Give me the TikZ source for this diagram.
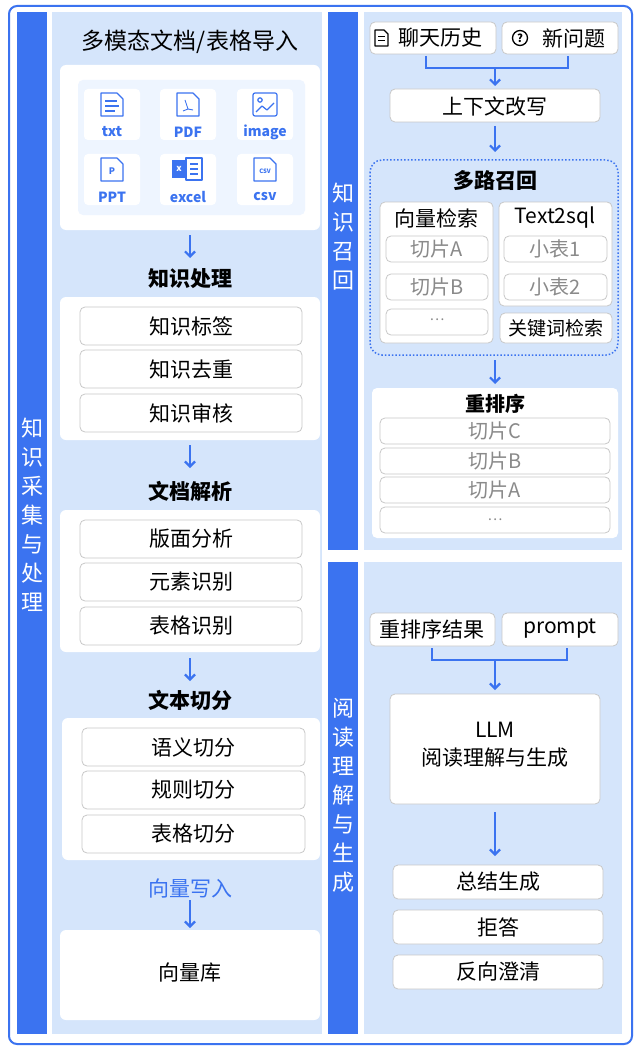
\documentclass[tikz,border=0pt]{standalone}
\usepackage{fontspec}
\setmainfont{Noto Sans CJK SC}
\usetikzlibrary{arrows.meta}
\definecolor{bl}{HTML}{3B73F0}
\definecolor{pan}{HTML}{D5E5FB}
\definecolor{pale}{HTML}{EEF5FF}
\definecolor{gr}{HTML}{C8C8C8}
\definecolor{gt}{HTML}{8A8A8A}
\tikzset{
 fs/.style={font=\fontsize{#1}{#1}\selectfont},
 box/.style={draw=gr,fill=white,rounded corners=5pt,line width=0.8pt},
 wbox/.style={fill=white,rounded corners=6pt},
 arr/.style={draw=bl,line width=2.2pt,-{Straight Barb[length=5pt,width=10pt]}},
 brk/.style={draw=bl,line width=2.2pt},
 card/.style={fill=white,rounded corners=4pt},
 ic/.style={draw=bl,line width=1.2pt,line join=round},
 lab/.style={text=bl,font=\bfseries\fontsize{14}{14}\selectfont},
 vt/.style={text=white,font=\fontsize{22}{29}\selectfont,align=center,text width=22pt,inner sep=0}
}
\newcommand{\rb}[4]{\path[box] (#1,#2) rectangle (#3,#4);}
\begin{document}
\begin{tikzpicture}[x=1pt,y=-1pt]
\useasboundingbox (0,0) rectangle (640,1051);
\fill[white] (0,0) rectangle (640,1051);
\draw[bl,line width=2pt,rounded corners=8pt] (9,6) rectangle (632,1044);
% strips
\fill[bl] (17,12) rectangle (47,1034);
\fill[pan] (52,12) rectangle (322,1034);
\fill[bl] (328,12) rectangle (358,550);
\fill[bl] (328,562) rectangle (358,1034);
\fill[pan] (364,12) rectangle (622,550);
\fill[pan] (364,562) rectangle (622,1034);
\node[vt] (s1) at (32,515) {知\\识\\采\\集\\与\\处\\理};
\node[vt] (s2) at (343,237) {知\\识\\召\\回};
\node[vt] (s3) at (343,795) {阅\\读\\理\\解\\与\\生\\成};
% ===== left column
\node[fs=23] (t1) at (190,42) {多模态文档/表格导入};
\path[wbox] (60,65) rectangle (320,230);
\path[fill=pale,rounded corners=5pt] (78,80) rectangle (305,215);
\foreach \cx/\cy/\nm/\lb in {112/115/ctxt/txt,188/115/cpdf/PDF,265/115/cimg/image,112/180/cppt/PPT,188/180/cxls/excel,265/180/ccsv/csv}{
  \path[card] (\cx-28,\cy-26) rectangle (\cx+28,\cy+25);
  \node[lab] (\nm) at (\cx,\cy+17) {\lb};
}
% icons
\draw[ic] (101,93) -- (117,93) -- (123,99) -- (123,116) -- (101,116) -- cycle;
\draw[ic] (105,101) -- (117,101) (105,106) -- (119,106) (105,111) -- (115,111);
\draw[ic] (177,93) -- (193,93) -- (199,99) -- (199,116) -- (177,116) -- cycle;
\draw[ic,line width=0.9pt] (185,100) -- (188,109) -- (183,111) (188,109) -- (193,110);
\draw[ic,rounded corners=2pt] (253,93) rectangle (277,116);
\draw[ic] (260,100) circle (2.2pt);
\draw[ic] (256,112) -- (262,106) -- (267,110) -- (274,103);
\draw[ic] (101,158) -- (117,158) -- (123,164) -- (123,181) -- (101,181) -- cycle;
\node[text=bl,font=\bfseries\fontsize{9}{9}\selectfont] (pp) at (112,171) {P};
\fill[bl] (172,160) rectangle (186,178);
\node[text=white,font=\bfseries\fontsize{9}{9}\selectfont] (xx) at (179,169) {x};
\draw[ic] (186,158) rectangle (202,180);
\draw[ic] (190,164) -- (198,164) (190,169) -- (198,169) (190,174) -- (198,174);
\draw[ic] (254,158) -- (270,158) -- (276,164) -- (276,181) -- (254,181) -- cycle;
\node[text=bl,font=\bfseries\fontsize{6}{6}\selectfont] (cs) at (265,171) {CSV};
\draw[arr] (190,235) -- (190,258);
\node[fs=21] (t2) at (190,279) {\bfseries 知识处理};
\path[wbox] (60,297) rectangle (320,440);
\rb{80}{307}{302}{345}\node[fs=21] (a1) at (191,326) {知识标签};
\rb{80}{350}{302}{388}\node[fs=21] (a2) at (191,369) {知识去重};
\rb{80}{394}{302}{432}\node[fs=21] (a3) at (191,413) {知识审核};
\draw[arr] (190,445) -- (190,468);
\node[fs=21] (t3) at (190,491) {\bfseries 文档解析};
\path[wbox] (60,510) rectangle (320,652);
\rb{80}{520}{302}{558}\node[fs=21] (b1) at (191,539) {版面分析};
\rb{80}{563}{302}{601}\node[fs=21] (b2) at (191,582) {元素识别};
\rb{80}{607}{302}{645}\node[fs=21] (b3) at (191,626) {表格识别};
\draw[arr] (190,658) -- (190,681);
\node[fs=21] (t4) at (190,700) {\bfseries 文本切分};
\path[wbox] (62,718) rectangle (320,860);
\rb{82}{728}{305}{766}\node[fs=21] (c1) at (193,747) {语义切分};
\rb{82}{771}{305}{809}\node[fs=21] (c2) at (193,790) {规则切分};
\rb{82}{815}{305}{853}\node[fs=21] (c3) at (193,834) {表格切分};
\node[fs=21,text=bl] (t5) at (190,888) {向量写入};
\draw[arr] (190,900) -- (190,928);
\path[wbox] (60,930) rectangle (320,1020);
\node[fs=21] (db) at (190,973) {向量库};
% ===== right top
\rb{370}{22}{496}{54}
\draw[line width=1.2pt,line join=round] (375,30) -- (384,30) -- (388,34) -- (388,46) -- (375,46) -- cycle;
\draw[line width=1pt] (378,37) -- (385,37) (378,41) -- (385,41);
\node[fs=21] (h1) at (440,38) {聊天历史};
\rb{502}{22}{618}{54}
\draw[line width=1.3pt] (520,38) circle (7.5pt);
\node[font=\bfseries\fontsize{11}{11}\selectfont] (qm) at (520,38) {?};
\node[fs=21] (h2) at (574,38) {新问题};
\draw[brk] (426,56) -- (426,68) -- (568,68) -- (568,56);
\coordinate (j1) at (495,68);
\rb{390}{89}{600}{122}\node[fs=21] (rw) at (495,106) {上下文改写};
\draw[arr] (j1) -- (495,86);
\draw[arr] (495,126) -- (495,152);
\draw[bl,line width=1.5pt,dotted,rounded corners=12pt] (370,160) rectangle (618,355);
\node[fs=21] (mr) at (495,181) {\bfseries 多路召回};
\rb{380}{202}{493}{343}\node[fs=21] (vr) at (436,218) {向量检索};
\rb{386}{236}{488}{262}\node[fs=20,text=gt] (v1) at (437,249) {切片A};
\rb{386}{274}{488}{300}\node[fs=20,text=gt] (v2) at (437,287) {切片B};
\rb{386}{309}{488}{335}\node[fs=14,text=gt] (v3) at (437,320) {…};
\rb{499}{202}{612}{306}\node[fs=21] (ts) at (555,218) {Text2sql};
\rb{504}{236}{607}{262}\node[fs=20,text=gt] (w1) at (555,249) {小表1};
\rb{504}{274}{607}{300}\node[fs=20,text=gt] (w2) at (555,287) {小表2};
\rb{500}{313}{612}{343}\node[fs=19] (kw) at (556,328) {关键词检索};
\draw[arr] (495,360) -- (495,384);
\path[box,draw=none] (372,388) rectangle (618,538);
\node[font=\bfseries\fontsize{20}{20}\selectfont] (rk) at (495,404) {重排序};
\rb{380}{418}{610}{444}\node[fs=20,text=gt] (r1) at (495,431) {切片C};
\rb{380}{448}{610}{474}\node[fs=20,text=gt] (r2) at (495,461) {切片B};
\rb{380}{477}{610}{503}\node[fs=20,text=gt] (r3) at (495,490) {切片A};
\rb{380}{507}{610}{533}\node[fs=14,text=gt] (r4) at (495,520) {…};
% ===== right bottom
\rb{370}{613}{495}{646}\node[fs=21] (p1) at (432,629) {重排序结果};
\rb{502}{613}{618}{646}\node[fs=21] (p2) at (560,629) {prompt};
\draw[brk] (432,648) -- (432,660) -- (567,660) -- (567,648);
\coordinate (j2) at (495,660);
\rb{390}{694}{600}{804}\node[font=\fontsize{21}{28}\selectfont,align=center] (llm) at (495,745) {LLM\\阅读理解与生成};
\draw[arr] (j2) -- (495,690);
\draw[arr] (495,812) -- (495,856);
\rb{393}{865}{603}{899}\node[fs=21] (o1) at (498,882) {总结生成};
\rb{393}{910}{603}{944}\node[fs=21] (o2) at (498,927) {拒答};
\rb{393}{955}{603}{989}\node[fs=21] (o3) at (498,972) {反向澄清};
\end{tikzpicture}
\end{document}
